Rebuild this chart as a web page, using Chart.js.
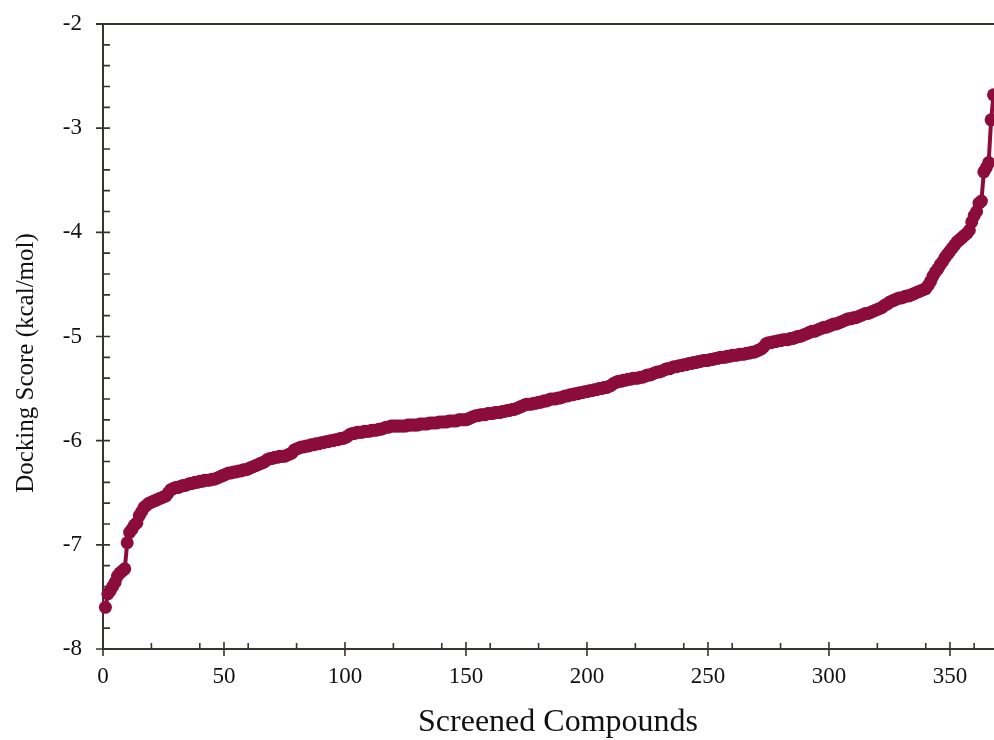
<!DOCTYPE html>
<html>
<head>
<meta charset="utf-8">
<script src="https://cdn.jsdelivr.net/npm/chart.js@4.4.0/dist/chart.umd.min.js"></script>
<style>
  html, body { margin: 0; padding: 0; background: #fff; }
  canvas { display: block; }
</style>
</head>
<body>
<canvas id="chart" width="994" height="740"></canvas>
<script>
// Docking scores, sorted, one per screened compound (rank 1..368)
const dockingScores = [
  -7.60, -7.47, -7.44, -7.40, -7.36, -7.30, -7.27, -7.25, -7.23, -6.98,
  -6.88, -6.85, -6.81, -6.79, -6.72, -6.68, -6.64, -6.62, -6.60, -6.59,
  -6.58, -6.57, -6.56, -6.55, -6.54, -6.53, -6.50, -6.47, -6.46, -6.45,
  -6.45, -6.44, -6.43, -6.43, -6.42, -6.41, -6.41, -6.40, -6.40, -6.39,
  -6.39, -6.38, -6.38, -6.38, -6.37, -6.37, -6.36, -6.35, -6.34, -6.33,
  -6.32, -6.31, -6.31, -6.30, -6.30, -6.29, -6.29, -6.28, -6.28, -6.27,
  -6.26, -6.25, -6.24, -6.23, -6.22, -6.21, -6.20, -6.18, -6.17, -6.17,
  -6.16, -6.16, -6.15, -6.15, -6.15, -6.14, -6.13, -6.12, -6.09, -6.08,
  -6.07, -6.06, -6.06, -6.05, -6.05, -6.04, -6.04, -6.03, -6.03, -6.02,
  -6.02, -6.01, -6.01, -6.00, -6.00, -5.99, -5.99, -5.98, -5.98, -5.97,
  -5.96, -5.94, -5.93, -5.93, -5.92, -5.92, -5.92, -5.91, -5.91, -5.91,
  -5.90, -5.90, -5.90, -5.89, -5.89, -5.88, -5.87, -5.87, -5.86, -5.86,
  -5.86, -5.86, -5.86, -5.86, -5.86, -5.85, -5.85, -5.85, -5.85, -5.85,
  -5.84, -5.84, -5.84, -5.84, -5.83, -5.83, -5.83, -5.83, -5.82, -5.82,
  -5.82, -5.82, -5.81, -5.81, -5.81, -5.81, -5.80, -5.80, -5.80, -5.80,
  -5.79, -5.78, -5.77, -5.76, -5.76, -5.75, -5.75, -5.75, -5.74, -5.74,
  -5.74, -5.73, -5.73, -5.73, -5.72, -5.72, -5.71, -5.71, -5.70, -5.70,
  -5.69, -5.68, -5.67, -5.66, -5.65, -5.65, -5.65, -5.64, -5.64, -5.63,
  -5.63, -5.62, -5.62, -5.61, -5.60, -5.60, -5.60, -5.59, -5.59, -5.58,
  -5.57, -5.57, -5.56, -5.56, -5.55, -5.55, -5.54, -5.54, -5.53, -5.53,
  -5.52, -5.52, -5.51, -5.51, -5.50, -5.50, -5.49, -5.49, -5.48, -5.47,
  -5.45, -5.44, -5.43, -5.43, -5.42, -5.42, -5.41, -5.41, -5.40, -5.40,
  -5.40, -5.39, -5.39, -5.38, -5.37, -5.37, -5.36, -5.35, -5.34, -5.34,
  -5.33, -5.32, -5.31, -5.31, -5.30, -5.29, -5.29, -5.28, -5.28, -5.27,
  -5.27, -5.26, -5.26, -5.25, -5.25, -5.24, -5.24, -5.23, -5.23, -5.23,
  -5.22, -5.22, -5.21, -5.21, -5.20, -5.20, -5.20, -5.19, -5.19, -5.18,
  -5.18, -5.18, -5.17, -5.17, -5.17, -5.16, -5.16, -5.15, -5.15, -5.14,
  -5.13, -5.12, -5.10, -5.07, -5.06, -5.06, -5.05, -5.05, -5.04, -5.04,
  -5.03, -5.03, -5.03, -5.02, -5.02, -5.01, -5.00, -5.00, -4.99, -4.98,
  -4.97, -4.96, -4.95, -4.95, -4.94, -4.93, -4.92, -4.91, -4.91, -4.90,
  -4.89, -4.88, -4.88, -4.87, -4.86, -4.85, -4.84, -4.83, -4.83, -4.82,
  -4.82, -4.81, -4.80, -4.79, -4.78, -4.78, -4.77, -4.76, -4.75, -4.74,
  -4.73, -4.72, -4.70, -4.69, -4.67, -4.66, -4.65, -4.64, -4.63, -4.63,
  -4.62, -4.61, -4.61, -4.60, -4.59, -4.58, -4.57, -4.56, -4.55, -4.54,
  -4.51, -4.47, -4.42, -4.38, -4.35, -4.31, -4.28, -4.24, -4.21, -4.18,
  -4.15, -4.12, -4.09, -4.07, -4.05, -4.03, -4.01, -3.98, -3.90, -3.84,
  -3.80, -3.72, -3.70, -3.42, -3.38, -3.33, -2.92, -2.68
];

// axis ticks
const xMajorTicks = [0, 50, 100, 150, 200, 250, 300, 350];
const xMinorTicks = [20, 40, 60, 80, 120, 140, 160, 180, 220, 240, 260, 280, 320, 340, 360];
const yMajorTicks = [-8, -7, -6, -5, -4, -3, -2];
const yMinorStep = 0.2;

const xTitle = 'Screened Compounds';
const yTitle = 'Docking Score (kcal/mol)';

const LINE_COLOR = '#8c0d3a';
const AXIS_COLOR = '#37332f';
const FONT = '"Liberation Serif", "Times New Roman", serif';

// tick marks, top frame line and axis titles
const axisDecor = {
    id: 'axisDecor',
    beforeDatasetsDraw(chart) {
        const { ctx, chartArea: a, scales: { x, y } } = chart;
        ctx.save();
        ctx.strokeStyle = AXIS_COLOR;
        ctx.lineWidth = 2;
        ctx.beginPath();
        ctx.moveTo(a.left - 7, a.top);
        ctx.lineTo(a.right, a.top);
        ctx.stroke();

        ctx.lineWidth = 1.6;
        ctx.beginPath();
        yMajorTicks.forEach(v => {
            const p = y.getPixelForValue(v);
            ctx.moveTo(a.left - 7, p); ctx.lineTo(a.left + 7, p);
        });
        for (let v = y.min; v <= y.max + 1e-6; v += yMinorStep) {
            const p = y.getPixelForValue(v);
            ctx.moveTo(a.left, p); ctx.lineTo(a.left + 7, p);
        }
        xMajorTicks.forEach(v => {
            const p = x.getPixelForValue(v);
            ctx.moveTo(p, a.bottom - 7); ctx.lineTo(p, a.bottom + 7);
        });
        xMinorTicks.forEach(v => {
            const p = x.getPixelForValue(v);
            ctx.moveTo(p, a.bottom - 6); ctx.lineTo(p, a.bottom);
        });
        ctx.stroke();
        ctx.restore();
    },
    afterDraw(chart) {
        const { ctx } = chart;
        ctx.save();
        ctx.fillStyle = '#111';
        ctx.textAlign = 'center';
        ctx.textBaseline = 'alphabetic';
        ctx.font = '32px ' + FONT;
        ctx.fillText(xTitle, 558, 731);
        ctx.translate(33, 363);
        ctx.rotate(-Math.PI / 2);
        ctx.font = '25px ' + FONT;
        ctx.fillText(yTitle, 0, 0);
        ctx.restore();
    }
};

const points = dockingScores.map((v, i) => ({ x: i + 1, y: v }));

new Chart(document.getElementById('chart').getContext('2d'), {
    type: 'line',
    data: {
        datasets: [{
            data: points,
            borderColor: LINE_COLOR,
            backgroundColor: LINE_COLOR,
            borderWidth: 4,
            pointRadius: 6.5,
            pointBorderWidth: 0,
            pointBackgroundColor: LINE_COLOR,
            tension: 0,
            clip: false
        }]
    },
    options: {
        responsive: false,
        devicePixelRatio: 1,
        animation: false,
        layout: { autoPadding: false, padding: { top: 24, right: 0, left: 0, bottom: 0 } },
        plugins: {
            legend: { display: false },
            tooltip: { enabled: false }
        },
        scales: {
            x: {
                type: 'linear',
                min: 0,
                max: 368.2,
                grid: { display: false, drawTicks: false },
                border: { display: true, color: AXIS_COLOR, width: 2 },
                afterBuildTicks: s => { s.ticks = xMajorTicks.map(v => ({ value: v })); },
                afterFit: s => {
                    s.height = 91;
                    s.paddingLeft = 0; s.paddingRight = 0;
                    s.paddingTop = 0; s.paddingBottom = 0;
                },
                ticks: {
                    autoSkip: false,
                    maxRotation: 0,
                    padding: 14,
                    color: '#111',
                    font: { family: FONT, size: 23 }
                }
            },
            y: {
                type: 'linear',
                min: -8,
                max: -2,
                grid: { display: false, drawTicks: false },
                border: { display: true, color: AXIS_COLOR, width: 2 },
                afterBuildTicks: s => { s.ticks = yMajorTicks.map(v => ({ value: v })); },
                afterFit: s => {
                    s.width = 103;
                    s.paddingLeft = 0; s.paddingRight = 0;
                    s.paddingTop = 0; s.paddingBottom = 0;
                },
                ticks: {
                    padding: 21,
                    color: '#111',
                    font: { family: FONT, size: 23 }
                }
            }
        }
    },
    plugins: [axisDecor]
});
</script>
</body>
</html>
